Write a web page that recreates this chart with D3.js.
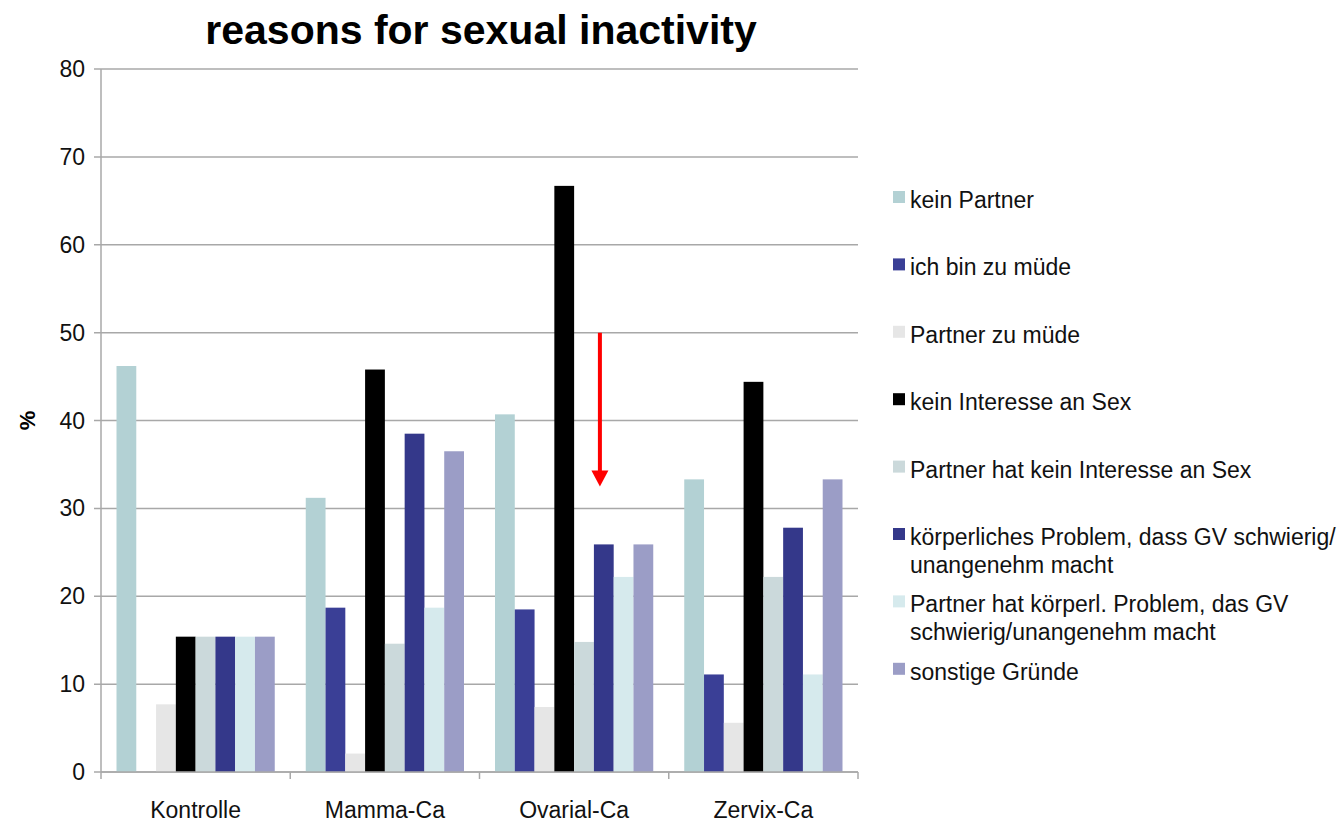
<!DOCTYPE html>
<html>
<head>
<meta charset="utf-8">
<script src="https://cdn.jsdelivr.net/npm/d3@7"></script>
<style>
  html, body { margin: 0; padding: 0; background: #fff; }
  svg { display: block; font-family: "Liberation Sans", Arial, sans-serif; }
</style>
</head>
<body>
<svg id="chart" width="1339" height="823"></svg>
<script>
(function(d3) {
    'use strict';

    var groups = ['Kontrolle', 'Mamma-Ca', 'Ovarial-Ca', 'Zervix-Ca'];
    var series = [
        'kein Partner',
        'ich bin zu müde',
        'Partner zu müde',
        'kein Interesse an Sex',
        'Partner hat kein Interesse an Sex',
        'körperliches Problem, dass GV schwierig/ unangenehm macht',
        'Partner hat körperl. Problem, das GV schwierig/unangenehm macht',
        'sonstige Gründe'
    ];
    // legend text, one array per entry (line breaks as in the picture)
    var legendLines = [
        ['kein Partner'],
        ['ich bin zu müde'],
        ['Partner zu müde'],
        ['kein Interesse an Sex'],
        ['Partner hat kein Interesse an Sex'],
        ['körperliches Problem, dass GV schwierig/', 'unangenehm macht'],
        ['Partner hat körperl. Problem, das GV', 'schwierig/unangenehm macht'],
        ['sonstige Gründe']
    ];
    var colors = ['#b3d1d4', '#3a3f96', '#e6e6e6', '#000000', '#cbd9db', '#34388a', '#d6eaed', '#9b9dc6'];

    // one row per group, values in series order
    var kontrolle = [46.2, 0, 7.7, 15.4, 15.4, 15.4, 15.4, 15.4];
    var mammaCa = [31.2, 18.7, 2.1, 45.8, 14.6, 38.5, 18.7, 36.5];
    var ovarialCa = [40.7, 18.5, 7.4, 66.7, 14.8, 25.9, 22.2, 25.9];
    var zervixCa = [33.3, 11.1, 5.6, 44.4, 22.2, 27.8, 11.1, 33.3];
    var values = [kontrolle, mammaCa, ovarialCa, zervixCa];

    var yTicks = [0, 10, 20, 30, 40, 50, 60, 70, 80];
    // red annotation arrow in the Ovarial-Ca group (from / to, in %)
    var arrowRange = [50, 32.5];

    var svg = d3.select('#chart');
    var left = 101, right = 858, top = 69, bottom = 772;

    var x0 = d3.scaleBand().domain(groups).range([left, right]).paddingInner(0).paddingOuter(0);
    var x1 = d3.scaleBand().domain(d3.range(series.length))
        .range([15.5, x0.bandwidth() - 15.5]).padding(0);
    var y = d3.scaleLinear().domain([0, 80]).range([bottom, top]);

    // gridlines
    svg.append('g')
        .selectAll('line')
        .data(yTicks)
        .join('line')
        .attr('x1', left - 7)
        .attr('x2', right)
        .attr('y1', function(d) { return y(d); })
        .attr('y2', function(d) { return y(d); })
        .attr('stroke', '#a8a8a8')
        .attr('stroke-width', 1.5);

    // y axis line
    svg.append('line')
        .attr('x1', left).attr('x2', left)
        .attr('y1', top).attr('y2', bottom)
        .attr('stroke', '#a8a8a8').attr('stroke-width', 1.5);

    // y tick labels
    svg.append('g')
        .selectAll('text')
        .data(yTicks)
        .join('text')
        .attr('x', 85)
        .attr('y', function(d) { return y(d) + 8; })
        .attr('text-anchor', 'end')
        .attr('font-size', 23)
        .attr('fill', '#111')
        .text(function(d) { return d; });

    // bars
    var g = svg.append('g')
        .selectAll('g')
        .data(groups)
        .join('g')
        .attr('transform', function(d) { return 'translate(' + x0(d) + ',0)'; });

    g.selectAll('rect')
        .data(function(d, i) { return values[i].map(function(v, j) { return {s: j, v: v}; }); })
        .join('rect')
        .attr('x', function(d) { return x1(d.s); })
        .attr('width', x1.bandwidth())
        .attr('y', function(d) { return y(d.v); })
        .attr('height', function(d) { return y(0) - y(d.v); })
        .attr('fill', function(d) { return colors[d.s]; });

    // x axis line and ticks
    svg.append('line')
        .attr('x1', left).attr('x2', right)
        .attr('y1', bottom).attr('y2', bottom)
        .attr('stroke', '#a8a8a8').attr('stroke-width', 1.5);

    var bounds = groups.map(function(d) { return x0(d); }).concat([right]);
    svg.append('g')
        .selectAll('line')
        .data(bounds)
        .join('line')
        .attr('x1', function(d) { return d; })
        .attr('x2', function(d) { return d; })
        .attr('y1', bottom)
        .attr('y2', bottom + 7)
        .attr('stroke', '#a8a8a8')
        .attr('stroke-width', 1.5);

    svg.append('g')
        .selectAll('text')
        .data(groups)
        .join('text')
        .attr('x', function(d) { return x0(d) + x0.bandwidth() / 2; })
        .attr('y', 818)
        .attr('text-anchor', 'middle')
        .attr('font-size', 23)
        .attr('fill', '#111')
        .text(function(d) { return d; });

    // title
    svg.append('text')
        .attr('x', 481)
        .attr('y', 44)
        .attr('text-anchor', 'middle')
        .attr('font-size', 41)
        .attr('font-weight', 'bold')
        .text('reasons for sexual inactivity');

    // y axis title
    svg.append('text')
        .attr('transform', 'translate(35,' + y(40) + ') rotate(-90)')
        .attr('text-anchor', 'middle')
        .attr('font-size', 22)
        .attr('font-weight', 'bold')
        .text('%');

    // arrow
    var ax = x0('Ovarial-Ca') + x1(5) + 6;
    svg.append('line')
        .attr('x1', ax).attr('x2', ax)
        .attr('y1', y(arrowRange[0]))
        .attr('y2', y(arrowRange[1]) - 14)
        .attr('stroke', '#ff0000')
        .attr('stroke-width', 4);
    svg.append('path')
        .attr('d', 'M' + (ax - 8.5) + ',' + (y(arrowRange[1]) - 16) +
            'L' + (ax + 8.5) + ',' + (y(arrowRange[1]) - 16) +
            'L' + ax + ',' + y(arrowRange[1]) + 'Z')
        .attr('fill', '#ff0000');

    // legend
    var legend = svg.append('g')
        .selectAll('g')
        .data(legendLines)
        .join('g')
        .attr('transform', function(d, i) { return 'translate(893,' + (191 + i * 67.4) + ')'; });

    legend.append('rect')
        .attr('width', 12)
        .attr('height', 12)
        .attr('fill', function(d, i) { return colors[i]; });

    legend.append('text')
        .attr('x', 17)
        .attr('y', 17)
        .attr('font-size', 23)
        .attr('fill', '#111')
        .selectAll('tspan')
        .data(function(d) { return d; })
        .join('tspan')
        .attr('x', 17)
        .attr('dy', function(d, i) { return i === 0 ? 0 : 28; })
        .text(function(d) { return d; });
}(d3));
</script>
</body>
</html>
